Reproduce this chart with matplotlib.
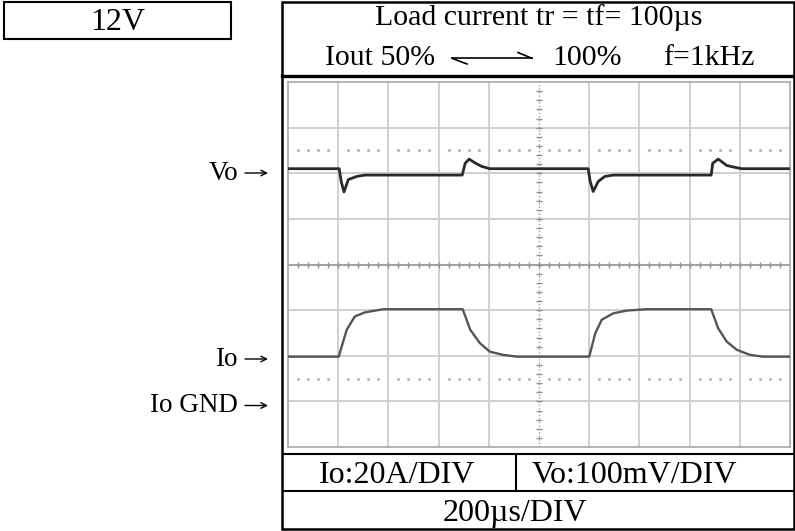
import matplotlib
matplotlib.use("Agg")
import matplotlib.pyplot as plt
import numpy as np

plt.rcParams['font.family'] = ['Liberation Serif', 'DejaVu Serif']

# ---- data (time in divisions, level in divisions) ----
vo_t = [0, 1.02, 1.06, 1.115, 1.20, 1.37, 1.53, 3.47, 3.53, 3.61, 3.72, 3.86, 4.02,
        5.98, 6.02, 6.08, 6.18, 6.31, 6.48, 8.43, 8.46, 8.57, 8.74, 8.90, 9.04, 10]
vo_v = [6.10, 6.10, 5.82, 5.59, 5.86, 5.93, 5.96, 5.96, 6.22, 6.31, 6.23, 6.15, 6.10,
        6.10, 5.82, 5.60, 5.82, 5.93, 5.96, 5.96, 6.22, 6.31, 6.17, 6.13, 6.10, 6.10]

io_t = [0, 1.01, 1.17, 1.33, 1.53, 1.90, 3.48, 3.63, 3.82, 4.02, 4.28, 4.56,
        6.00, 6.12, 6.25, 6.48, 6.75, 7.15, 8.43, 8.57, 8.74, 8.94, 9.20, 9.46, 10]
io_v = [1.98, 1.98, 2.57, 2.86, 2.95, 3.02, 3.02, 2.57, 2.28, 2.09, 2.02, 1.98,
        1.98, 2.49, 2.79, 2.93, 2.99, 3.02, 3.02, 2.60, 2.31, 2.13, 2.02, 1.98, 1.98]

dotted_levels = [6.5, 1.5]
n_xdiv = 10
n_ydiv = 8

title_line1 = "Load current tr = tf= 100µs"
row2_left = "Iout 50%"
row2_mid = "100%"
row2_right = "f=1kHz"
supply_label = "12V"
side_labels = ["Vo", "Io", "Io GND"]
side_baselines = [180, 366, 412.5]
scale_io = "Io:20A/DIV"
scale_vo = "Vo:100mV/DIV"
scale_t = "200µs/DIV"

W, H = 795, 531
fig = plt.figure(figsize=(W / 100, H / 100), dpi=100)

# overlay in pixel coordinates
ov = fig.add_axes([0, 0, 1, 1])
ov.set_xlim(0, W)
ov.set_ylim(H, 0)
ov.axis('off')

blk = dict(color='black', lw=1.5, solid_capstyle='butt')
# 12V box
ov.add_patch(plt.Rectangle((4, 1.5), 227, 37.5, fill=False, ec='black', lw=1.5))
ov.text(118, 30, supply_label, ha='center', va='baseline', fontsize=23)

# outer box
L, R, T, B = 281.5, 794, 1.5, 529
ov.add_patch(plt.Rectangle((L, T), R - L, B - T, fill=False, ec='black', lw=1.8))
ov.plot([L, R], [76, 76], color='black', lw=2.4)
ov.plot([L, R], [453.5, 453.5], **blk)
ov.plot([L, R], [491, 491], **blk)
ov.plot([516, 516], [453.5, 491], **blk)

# header text
ov.text(539, 25, title_line1, ha='center', va='baseline', fontsize=21.5)
ov.text(325, 65, row2_left, ha='left', va='baseline', fontsize=21.5)
ov.text(552, 65, row2_mid, ha='left', va='baseline', fontsize=21.5)
ov.text(663, 65, row2_right, ha='left', va='baseline', fontsize=21.5)
# harpoon arrow
ov.plot([452, 532], [58.3, 58.3], color='black', lw=1.2)
ov.plot([452, 467], [58.3, 64], color='black', lw=1.2)
ov.plot([518, 532], [52.5, 58.3], color='black', lw=1.2)

# side labels with arrows
for lab, yb in zip(side_labels, side_baselines):
    ov.text(238, yb, lab, ha='right', va='baseline', fontsize=19.5)
    ov.annotate('', xy=(268, yb - 7), xytext=(245, yb - 7),
                arrowprops=dict(arrowstyle='->', lw=1.0, color='black',
                                shrinkA=0, shrinkB=0, mutation_scale=10))

# bottom labels
ov.text(397, 483, scale_io, ha='center', va='baseline', fontsize=23)
ov.text(634, 483, scale_vo, ha='center', va='baseline', fontsize=23)
ov.text(515, 521, scale_t, ha='center', va='baseline', fontsize=23)

# scope axes
x0, x1, y0, y1 = 288, 790, 82, 447
ax = fig.add_axes([x0 / W, (H - y1) / H, (x1 - x0) / W, (y1 - y0) / H])
ax.set_xlim(0, n_xdiv)
ax.set_ylim(0, n_ydiv)
ax.set_xticks([])
ax.set_yticks([])
for s in ax.spines.values():
    s.set_color('#a8a8a8')
    s.set_linewidth(1.2)

gcol = '#cfcfcf'
for i in range(1, n_xdiv):
    if i != n_xdiv // 2:
        ax.axvline(i, color=gcol, lw=1.4, zorder=1)
for j in range(1, n_ydiv):
    if j != n_ydiv // 2:
        ax.axhline(j, color=gcol, lw=1.4, zorder=1)

# center axes with ticks
acol = '#a0a0a0'
ax.axhline(n_ydiv / 2, color=acol, lw=1.4, zorder=1)
ax.axvline(n_xdiv / 2, color=acol, lw=1.0, ls=(0, (1, 1.5)), zorder=1)
xt = np.arange(0.2, n_xdiv, 0.2)
ax.plot(xt, np.full_like(xt, n_ydiv / 2), ls='none', marker='|', ms=4, mew=1.0, color='#909090', zorder=2)
yt = np.arange(0.2, n_ydiv, 0.2)
ax.plot(np.full_like(yt, n_xdiv / 2), yt, ls='none', marker='_', ms=4, mew=1.0, color='#909090', zorder=2)

# dotted reference levels
for lev in dotted_levels:
    dx = np.array([v for v in np.arange(0.2, n_xdiv, 0.2) if abs(v - round(v)) > 0.05])
    ax.plot(dx, np.full_like(dx, lev), ls='none', marker='.', ms=2.2, color='#b0b0b0', zorder=2)

# traces
ax.plot(io_t, io_v, color='#555555', lw=1.7, zorder=3)
ax.plot(vo_t, vo_v, color='#2a2a2a', lw=2.0, zorder=4)

fig.savefig('out.png', dpi=100)
